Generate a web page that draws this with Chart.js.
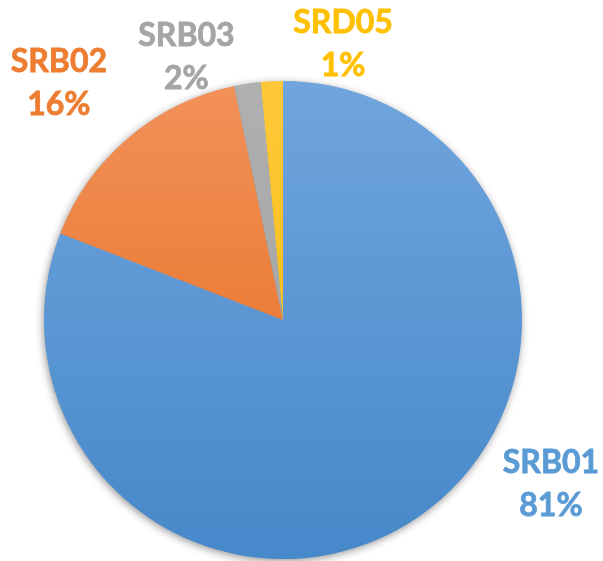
<!DOCTYPE html>
<html>
<head>
<meta charset="utf-8">
<style>
html,body{margin:0;padding:0;background:#fff;}
#wrap{width:603px;height:561px;position:relative;}
</style>
<script src="https://cdn.jsdelivr.net/npm/chart.js@4/dist/chart.umd.min.js"></script>
</head>
<body>
<div id="wrap"><canvas id="c" width="603" height="561"></canvas></div>
<script>
const categories = ['SRB01', 'SRB02', 'SRB03', 'SRD05'];
const values = [80.9, 15.83, 1.78, 1.49];
const topColors = ['#70a5dd', '#f2915a', '#b0b0b0', '#ffc83a'];
const bottomColors = ['#4688ca', '#e46a16', '#9e9e9e', '#f5b800'];
const labelColors = ['#5b9bd5', '#ed7d31', '#a5a5a5', '#ffc000'];
// label placement: angle (deg clockwise from top) and distance from centre, in radius units
const labelPolar = [[121.5, 1.315], [316.6, 1.365], [339.8, 1.17], [12.3, 1.18]];

const total = values.reduce((a, b) => a + b, 0);

function grad(ctx, i) {
  const chart = ctx.chart;
  const ca = chart.chartArea;
  if (!ca) return topColors[i];
  const g = chart.ctx.createLinearGradient(0, ca.top, 0, ca.bottom);
  g.addColorStop(0, topColors[i]);
  g.addColorStop(1, bottomColors[i]);
  return g;
}

const shadowPlugin = {
  id: 'pieShadow',
  beforeDatasetsDraw(chart) {
    const arc = chart.getDatasetMeta(0).data[0];
    if (!arc) return;
    const c = chart.ctx;
    c.save();
    c.shadowColor = 'rgba(0,0,0,0.45)';
    c.shadowBlur = 9;
    c.shadowOffsetX = -1;
    c.shadowOffsetY = 2;
    c.fillStyle = '#5b9bd5';
    c.beginPath();
    c.arc(arc.x, arc.y, arc.outerRadius - 0.5, 0, Math.PI * 2);
    c.fill();
    c.restore();
  }
};

const labelPlugin = {
  id: 'outLabels',
  afterDatasetsDraw(chart) {
    const meta = chart.getDatasetMeta(0);
    const c = chart.ctx;
    c.save();
    c.textAlign = 'center';
    c.textBaseline = 'middle';
    c.font = 'bold 32px Lato';
    meta.data.forEach((arc, i) => {
      const [deg, k] = labelPolar[i];
      const a = deg * Math.PI / 180;
      const x = arc.x + Math.sin(a) * arc.outerRadius * k;
      const y = arc.y - Math.cos(a) * arc.outerRadius * k;
      c.fillStyle = labelColors[i];
      c.strokeStyle = labelColors[i];
      c.lineWidth = 0.8;
      const t1 = categories[i];
      const t2 = Math.round(values[i] / total * 100) + '%';
      c.fillText(t1, x, y - 21.5);
      c.strokeText(t1, x, y - 21.5);
      c.fillText(t2, x, y + 21.5);
      c.strokeText(t2, x, y + 21.5);
    });
    c.restore();
  }
};

new Chart(document.getElementById('c'), {
  type: 'pie',
  data: {
    labels: categories,
    datasets: [{
      data: values,
      backgroundColor: (ctx) => grad(ctx, ctx.dataIndex),
      borderWidth: 0
    }]
  },
  options: {
    responsive: false,
    animation: false,
    layout: { padding: { left: 44, right: 81, top: 81, bottom: 2 } },
    plugins: { legend: { display: false }, tooltip: { enabled: false } }
  },
  plugins: [shadowPlugin, labelPlugin]
});
</script>
</body>
</html>
